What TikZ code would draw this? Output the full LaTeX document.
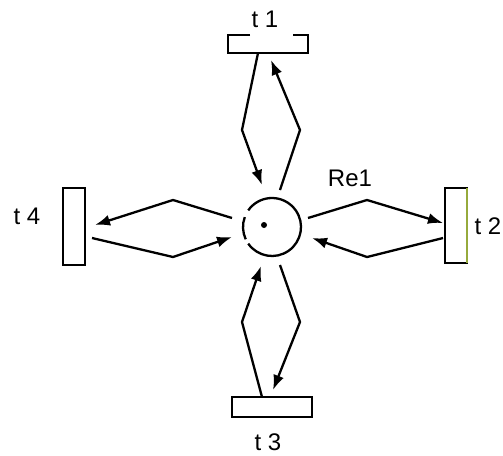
\documentclass[tikz,border=0pt]{standalone}
\usepackage{fontspec}
\setmainfont{Liberation Sans}
\usetikzlibrary{arrows.meta,calc}
\definecolor{edgegreen}{RGB}{150,170,60}
\begin{document}
\begin{tikzpicture}[x=1pt,y=-1pt,
  line width=2.3pt,
  trans/.style={rectangle, inner sep=0pt, outer sep=0pt},
  lbl/.style={font=\fontsize{24}{28}\selectfont, inner sep=0pt},
  arc/.style={-{Latex[length=15pt,width=11pt]}, line join=miter}]
\useasboundingbox (0,0) rectangle (503,455);
% place
\node[circle, minimum size=58pt, inner sep=0pt, outer sep=0pt] (p) at (272,227) {};
\draw (p.160) arc[start angle=160, end angle=205, radius=29pt];
\draw (p.215) arc[start angle=215, end angle=505, radius=29pt];
\node[circle, fill, inner sep=0pt, minimum size=6pt] (tok) at (264,225) {};
% transitions
\node[trans, minimum width=80pt, minimum height=18pt] (t1) at (268,44) {};
\draw ($(t1.north west)+(22,0)$) -- (t1.north west) -- (t1.south west) -- (t1.south east) -- (t1.north east) -- ($(t1.north east)+(-15,0)$);
\node[trans, draw, minimum width=80pt, minimum height=20pt] (t3) at (272,407) {};
\node[trans, draw, minimum width=22pt, minimum height=77pt] (t4) at (74,226.5) {};
\node[trans, draw, minimum width=22pt, minimum height=75pt] (t2) at (456,225.5) {};
\draw[edgegreen] (t2.north east) -- (t2.south east);
% labels
\node[lbl] (l1) at (265,19) {t 1};
\node[lbl] (l3) at (268,442) {t 3};
\node[lbl] (l4) at (27,216) {t 4};
\node[lbl] (l2) at (488,226) {t 2};
\node[lbl] (re) at (350,178) {Re1};
% arcs
\draw[arc] ($(t1.south)+(-10,0)$) -- (242,130) -- ($(p.north)+(-10,-13)$);
\draw[arc] ($(p.north)+(8,-8)$) -- (300,130) -- ($(t1.south)+(3,7)$);
\draw[arc] ($(t3.north)+(-10,0)$) -- (242,322) -- ($(p.south)+(-11,10)$);
\draw[arc] ($(p.south)+(8,9)$) -- (300,322) -- ($(t3.north)+(1,-7)$);
\draw[arc] ($(p.west)+(-11,-9)$) -- (173,200) -- ($(t4.east)+(10,-1.5)$);
\draw[arc] ($(t4.east)+(7,11.5)$) -- (173,257) -- ($(p.west)+(-11,10)$);
\draw[arc] ($(p.east)+(7,-9)$) -- (367,200) -- ($(t2.west)+(-2,-2.5)$);
\draw[arc] ($(t2.west)+(-2,12.5)$) -- (367,257) -- ($(p.east)+(11,11)$);
\end{tikzpicture}
\end{document}
